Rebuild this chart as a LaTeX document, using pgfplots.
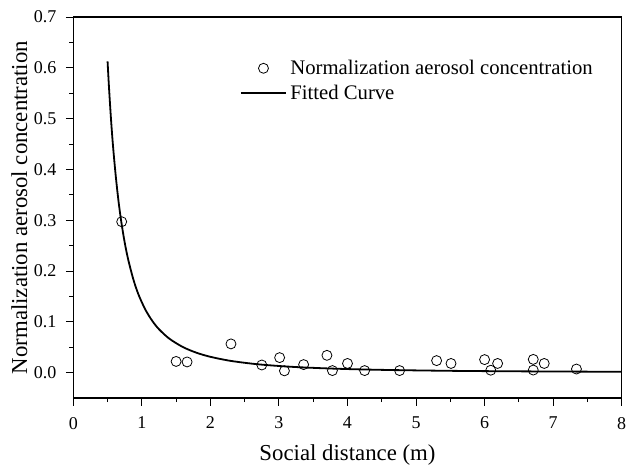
\documentclass[border=0pt]{standalone}
\usepackage{fontspec}
\setmainfont{Liberation Serif}
\usepackage{pgfplots}
\pgfplotsset{compat=1.18}
\begin{document}
\begin{tikzpicture}
\useasboundingbox (0,0) rectangle (626pt,467pt);
\begin{axis}[
  at={(73.3pt,69pt)}, anchor=south west,
  scale only axis, width=548.4pt, height=381pt,
  xmin=0, xmax=8, ymin=-0.05, ymax=0.7,
  xtick={0,1,...,8}, ytick={0,0.1,...,0.7},
  minor x tick num=1, minor y tick num=1,
  tick align=outside, xtick pos=bottom, ytick pos=left,
  major tick length=7.5pt, minor tick length=4pt,
  axis line style={line width=1.1pt},
  every tick/.style={black, line width=0.9pt},
  /pgf/number format/assume math mode=true,
  yticklabel style={/pgf/number format/fixed, /pgf/number format/precision=1, /pgf/number format/fixed zerofill, font=\fontsize{18}{18}\selectfont, xshift=-6pt},
  xticklabel style={font=\fontsize{18}{18}\selectfont, yshift=-8pt},
  scaled y ticks=false,
  xlabel={Social distance (m)}, ylabel={Normalization aerosol concentration},
  label style={font=\fontsize{22.8}{22.8}\selectfont},
  xlabel style={at={(axis description cs:0.5,0)}, anchor=center, yshift=-57pt},
  ylabel style={at={(axis description cs:0,0.5)}, anchor=center, yshift=54pt},
  legend style={draw=none, fill=none, at={(axis cs:2.43,0.619)}, anchor=north west, inner sep=0pt, font=\fontsize{20.7}{22}\selectfont, row sep=5pt, nodes={inner xsep=3.5pt}},
  legend cell align=left,
]
\addplot[only marks, mark=o, mark size=5pt, mark options={line width=0.8pt, black},
  legend image code/.code={\draw[mark=o, mark size=5pt, mark options={line width=0.8pt, black}] plot coordinates {(22.5pt,0pt)};}] coordinates {
(0.706,0.297) (1.50,0.022) (1.66,0.021) (2.30,0.0565) (2.75,0.015) (3.01,0.0295)
(3.08,0.0035) (3.36,0.0158) (3.70,0.034) (3.78,0.004) (4.00,0.018) (4.25,0.004)
(4.76,0.004) (5.30,0.0236) (5.51,0.018) (6.00,0.0256) (6.09,0.0047) (6.19,0.018)
(6.71,0.026) (6.71,0.005) (6.87,0.018) (7.34,0.007)
};
\addlegendentry{Normalization aerosol concentration}
\addplot[black, line width=1.8pt, smooth,
  legend image code/.code={\draw[black, line width=1.8pt] (0pt,0pt) -- (45pt,0pt);}] coordinates {
(0.50,0.6125) (0.52,0.563) (0.55,0.499) (0.58,0.445) (0.62,0.386) (0.66,0.337)
(0.70,0.297) (0.75,0.256) (0.80,0.223) (0.875,0.184) (0.95,0.154) (1.05,0.1243)
(1.15,0.1022) (1.25,0.0854) (1.4,0.0669) (1.6,0.0502) (1.8,0.0390) (2.0,0.0311)
(2.3,0.0230) (2.7,0.0163) (3.2,0.0113) (3.8,0.0078) (4.5,0.0054) (5.5,0.0035)
(6.5,0.0025) (8.0,0.0016)
};
\addlegendentry{Fitted Curve}
\end{axis}
\end{tikzpicture}
\end{document}
